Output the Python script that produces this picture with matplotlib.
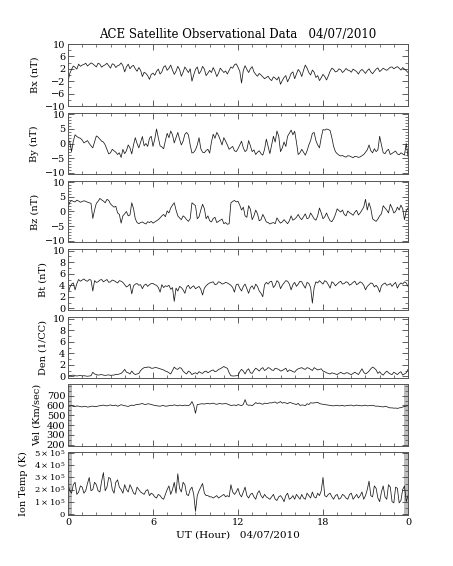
import numpy as np
import matplotlib
matplotlib.use("Agg")
import matplotlib.pyplot as plt
from matplotlib.ticker import MultipleLocator, FixedLocator

plt.rcParams['font.family'] = ['DejaVu Serif']
plt.rcParams['mathtext.fontset'] = 'dejavuserif'

# ---- data: readings every 15 min (0..24 UT) plus readings in between (7.5 min offset) ----
hours = np.arange(97) * 0.25
hours_mid = np.arange(96) * 0.25 + 0.125

bx = [-2.2, 1.8, 2.5, 3.5, 3.2, 3.8, 3.4, 3.6, 2.6, 3.5, 3.0, 3.8, 2.2, 3.4, 3.0, 3.9,
      1.0, 3.5, 2.8, 2.0, 2.4, -0.5, 0.5, -1.4, 0.6, 1.2, 0.3, 2.6, 1.5, 3.2, 0.2, 2.8,
      -0.4, 2.6, 0.8, -2.0, 1.8, 0.4, 2.8, -0.2, 1.5, 2.4, -0.5, 2.2, 0.8, 0.3, 2.6, 3.3,
      2.5, -2.6, 3.0, 0.8, 2.7, 0.2, 0.5, -0.6, -0.8, -1.3, -0.6, -1.6, -3.0, -0.8, -2.2, 0.5,
      -1.2, 1.8, -0.5, 3.2, 0.8, 1.6, -0.8, -1.8, 0.2, -1.6, 1.2, 1.8, 1.2, 1.7, 1.3, 1.6,
      0.9, 1.5, 0.3, 1.8, 0.5, 2.0, 0.4, 1.9, 1.1, 2.2, 1.5, 2.5, 2.0, 2.7, 1.6, 1.9, 0.8]
bx_mid = [0.5, 2.9, 1.9, 2.8, 3.4, 2.9, 3.9, 3.1, 3.8, 2.5, 3.3, 3.0, 3.6, 2.4, 3.2, 3.0,
          2.6, 2.0, 3.1, 1.2, 1.5, 0.9, -0.2, 0.2, -0.1, 1.9, 1.0, 3.0, 2.2, 1.6, 1.2, 1.8,
          0.9, 1.7, 2.0, 0.0, 2.6, 1.2, 1.9, 0.6, 0.8, 1.2, 0.6, 1.5, 1.3, 1.5, 2.2, 3.6,
          1.2, 1.5, 1.8, 2.0, 1.0, -0.4, 0.0, -1.2, -0.4, -1.8, -1.0, -0.6, -1.8, -0.2, -1.0, 1.0,
          0.3, 1.0, 1.5, 2.2, 0.0, 0.9, -0.2, -0.9, -0.5, -0.3, 2.2, 1.0, 2.0, 0.8, 2.1, 1.4,
          1.9, 1.1, 1.3, 1.2, 1.4, 1.0, 1.2, 2.3, 1.6, 1.8, 2.0, 2.6, 2.4, 2.2, 2.4, 1.4]

by = [1.5, -2.8, 3.0, 2.0, 1.2, 0.6, 0.0, -1.5, 2.6, 1.5, 0.5, -2.0, -3.2, -2.5, -3.8, -4.8,
      -3.5, -0.5, -3.6, 2.0, -1.5, 2.4, 0.0, 1.8, -1.0, 5.0, -0.8, -1.8, 3.5, 4.3, 0.2, 3.8,
      -0.5, 3.2, 3.0, -3.3, -2.2, 2.0, -3.0, -2.4, -3.3, 3.2, 3.8, 1.2, 2.0, -0.5, -1.5, -2.5,
      -1.8, 0.8, -2.8, 1.0, -2.8, -3.8, -2.5, -4.0, 1.5, -3.5, 2.5, 4.3, -2.8, 0.5, 2.5, 4.6,
      4.2, -3.8, -2.0, -4.0, -0.5, 3.5, 1.0, -1.5, 4.8, 5.0, 4.5, -1.0, -3.5, -4.3, -4.5, -4.2,
      -4.6, -4.4, -4.8, -4.2, -3.0, -0.5, -3.2, -2.8, 2.5, -3.2, -2.5, -3.8, -3.0, -3.6, -3.2, -4.0, -4.4]
by_mid = [0.5, 0.8, 2.4, 1.8, 0.2, 1.0, -0.8, 0.5, 2.2, 0.8, -0.5, -3.6, -2.0, -3.0, -3.2, -2.0,
          -2.5, -1.5, -0.5, 0.0, 0.5, -0.8, -1.0, 2.5, 1.5, 2.0, -1.2, 1.0, 2.0, 3.0, 2.0, 1.5,
          0.8, 3.8, -0.5, -3.0, -0.5, -1.8, -3.2, -2.0, 0.5, 1.8, 2.8, -0.5, 0.8, -2.0, -1.0, -2.8,
          -0.5, -1.5, -2.2, -0.8, -2.2, -3.0, -3.5, -2.0, -1.0, -0.5, 0.5, 2.5, -1.5, -1.0, 3.5, 3.0,
          0.5, -3.2, -3.0, -2.5, 1.0, 3.8, -0.5, 2.0, 4.6, 4.8, 2.0, -2.8, -4.0, -4.1, -4.7, -4.3,
          -4.9, -4.5, -4.6, -3.8, -2.2, -2.5, -1.8, -2.2, -0.5, -3.5, -2.0, -3.4, -2.6, -3.9, -3.6, 0.0]

bz = [1.5, 3.8, 3.3, 3.6, 3.4, 3.5, 3.0, -2.4, 2.8, 4.5, 3.6, 4.2, 2.6, 1.5, -0.5, -4.0,
      -0.8, -1.5, 3.0, -2.5, -4.2, -3.6, -4.3, -3.8, -4.0, -3.2, -2.2, -1.0, 0.2, 1.2, 3.0, -1.5,
      -2.8, -2.0, -3.4, 3.0, 2.0, -1.8, 2.5, -2.5, -3.2, -2.4, -3.8, -3.0, -4.2, -4.4, 3.0, 3.8,
      3.5, 0.5, -1.5, 2.0, -2.8, 0.5, -3.2, -1.0, -3.6, -4.3, -3.8, -2.2, -4.0, -2.8, -4.2, -1.5,
      -2.6, -1.0, -2.8, -0.8, -2.2, -1.5, -3.0, 1.2, -2.5, -0.5, -3.2, -2.5, 0.9, -0.2, -1.0, 0.2,
      -0.8, -0.2, -1.2, 0.5, 4.2, 3.0, -2.5, -3.4, -1.5, 2.0, 0.5, 2.5, -0.5, 1.5, 2.2, -2.8, 1.2]
bz_mid = [3.2, 3.5, 3.9, 3.2, 3.7, 3.2, 2.8, 0.5, 3.5, 4.0, 3.0, 3.8, 2.0, 1.8, -1.0, -1.5,
          0.0, -1.2, 1.0, -3.8, -3.8, -4.0, -3.5, -3.4, -3.6, -2.8, -1.5, -1.8, -0.5, 2.2, 0.5, -2.2,
          -1.5, -2.8, -2.5, 2.5, -2.5, 0.5, 1.0, -1.5, -3.6, -2.0, -3.4, -2.6, -3.8, -4.2, 3.5, 3.3,
          2.2, 1.5, -2.0, 0.8, -1.5, -0.8, -2.8, -2.2, -3.8, -4.0, -4.2, -3.2, -3.6, -3.5, -3.2, -3.0,
          -2.0, -2.2, -1.8, -2.5, -0.5, -2.5, -1.5, -0.5, -1.8, -2.0, -3.5, -1.0, 0.3, 0.5, -1.5, -0.4,
          -1.3, 0.4, -0.5, 1.5, 0.5, 1.0, -3.0, -2.6, -0.8, 1.2, -0.5, 1.2, 0.0, 0.5, 1.0, 0.2]

bt = [2.4, 4.2, 3.2, 5.0, 4.9, 4.8, 5.0, 3.0, 4.5, 4.9, 4.6, 5.0, 4.6, 4.8, 4.4, 4.7,
      4.1, 3.9, 2.5, 4.2, 4.0, 3.4, 4.2, 4.1, 4.3, 4.0, 2.8, 3.6, 3.8, 3.3, 1.2, 3.0,
      3.6, 2.6, 4.0, 3.7, 3.4, 3.8, 2.3, 3.9, 4.4, 4.6, 4.2, 4.5, 4.3, 4.4, 4.0, 2.8,
      4.2, 3.0, 4.2, 2.6, 3.9, 4.2, 3.0, 2.0, 4.5, 4.6, 3.6, 4.8, 3.4, 4.4, 4.7, 3.2,
      4.5, 4.2, 4.6, 3.5, 4.3, 0.9, 4.6, 4.8, 4.2, 4.6, 3.5, 4.4, 4.2, 4.7, 4.3, 4.5,
      4.2, 4.7, 4.3, 4.4, 3.2, 4.1, 4.3, 4.0, 2.8, 4.2, 4.0, 4.3, 4.2, 3.5, 4.4, 4.6, 3.8]
bt_mid = [3.6, 4.4, 4.3, 4.7, 5.1, 4.7, 4.9, 4.8, 4.6, 5.0, 4.8, 4.5, 4.9, 4.6, 4.8, 4.5,
          3.7, 4.2, 3.9, 4.3, 4.1, 4.0, 3.8, 4.3, 4.1, 3.6, 4.1, 3.9, 4.0, 3.6, 3.5, 3.8,
          3.2, 3.7, 3.4, 3.9, 3.6, 3.3, 3.5, 4.2, 4.5, 4.1, 4.6, 4.2, 4.5, 4.2, 3.6, 4.1,
          3.5, 3.8, 3.4, 3.6, 3.3, 3.8, 2.6, 4.1, 4.2, 4.7, 4.0, 4.5, 4.0, 4.8, 4.2, 4.1,
          3.8, 4.7, 4.0, 4.5, 3.6, 3.6, 4.4, 4.5, 4.8, 4.1, 4.6, 3.9, 4.5, 4.2, 4.6, 4.0,
          4.5, 4.1, 4.6, 4.0, 3.8, 4.4, 3.7, 3.6, 3.9, 4.4, 4.1, 3.8, 4.5, 4.1, 4.2, 4.4]

den = [0.2, 0.15, 0.1, 0.1, 0.05, 0.05, 0.05, 0.7, 0.3, 0.25, 0.2, 0.2, 0.15, 0.2, 0.3, 0.5,
       1.2, 0.6, 0.9, 0.3, 0.5, 1.3, 1.5, 1.6, 1.4, 1.5, 1.3, 1.1, 0.8, 0.4, 1.6, 1.2,
       1.4, 0.6, 0.9, 0.3, 0.6, 0.8, 0.5, 0.9, 0.8, 1.1, 0.9, 1.3, 1.7, 1.4, 0.1, 0.05,
       0.1, 1.2, 0.4, 1.3, 0.5, 1.4, 0.9, 1.5, 1.2, 1.4, 1.0, 1.3, 0.9, 1.2, 0.8, 1.0,
       0.7, 1.3, 1.5, 1.2, 1.4, 1.0, 1.3, 1.2, 0.9, 0.6, 0.4, 0.5, 0.3, 0.7, 0.4, 0.6,
       0.3, 0.7, 0.3, 1.3, 0.4, 0.9, 1.6, 1.1, 0.8, 0.2, 0.9, 0.4, 0.7, 0.3, 0.8, 0.4, 1.2]
den_mid = [0.1, 0.2, 0.05, 0.15, 0.1, 0.0, 0.1, 0.4, 0.2, 0.3, 0.15, 0.25, 0.2, 0.35, 0.4, 0.8,
           0.7, 0.4, 0.5, 0.4, 1.0, 1.5, 1.6, 1.4, 1.5, 1.4, 1.2, 0.9, 0.6, 1.0, 1.3, 1.5,
           0.9, 0.4, 0.7, 0.5, 0.4, 0.6, 0.8, 0.6, 1.0, 0.8, 1.2, 1.5, 1.5, 0.6, 0.05, 0.1,
           0.8, 0.9, 1.0, 0.6, 1.0, 1.2, 1.3, 1.0, 1.5, 1.1, 1.4, 1.2, 1.0, 1.4, 1.1, 0.8,
           1.1, 1.4, 1.3, 1.5, 1.2, 1.5, 1.1, 1.3, 0.8, 0.5, 0.6, 0.4, 0.5, 0.5, 0.6, 0.4,
           0.5, 0.5, 0.8, 0.7, 0.6, 1.3, 1.4, 0.5, 0.4, 0.6, 0.6, 0.3, 0.5, 0.6, 0.2, 0.6]

vel = [595, 600, 588, 592, 585, 590, 586, 594, 590, 598, 604, 596, 606, 600, 592, 608,
       598, 590, 604, 606, 612, 620, 610, 615, 604, 598, 592, 600, 594, 602, 606, 596,
       600, 604, 598, 640, 520, 612, 618, 620, 616, 624, 612, 620, 618, 615, 600, 605,
       610, 598, 660, 602, 598, 630, 625, 612, 620, 628, 632, 622, 640, 630, 618, 628,
       615, 622, 605, 598, 610, 625, 630, 620, 612, 605, 600, 596, 602, 598, 594, 600,
       604, 598, 600, 596, 603, 598, 602, 592, 590, 585, 588, 575, 572, 570, 578, 590, 598]
vel_mid = [592, 590, 596, 588, 592, 584, 591, 588, 594, 600, 598, 602, 598, 604, 600, 602,
           594, 598, 600, 610, 616, 612, 618, 610, 600, 595, 598, 592, 598, 600, 602, 604,
           598, 600, 610, 600, 610, 616, 614, 622, 620, 616, 618, 615, 620, 608, 602, 598,
           604, 612, 610, 604, 612, 620, 618, 624, 622, 626, 636, 630, 624, 626, 630, 620,
           610, 600, 604, 618, 628, 626, 632, 615, 608, 602, 598, 600, 596, 602, 598, 602,
           596, 604, 598, 600, 596, 600, 596, 594, 588, 592, 580, 576, 574, 575, 584, 594]

temp_1e5 = [2.5, 1.7, 2.6, 1.8, 2.2, 1.9, 3.0, 2.0, 2.4, 1.8, 3.4, 2.2, 2.9, 1.7, 2.8, 2.0,
            2.4, 1.8, 2.1, 1.6, 2.0, 1.7, 1.9, 1.5, 1.6, 1.3, 1.5, 1.2, 2.0, 1.6, 2.6, 3.3,
            1.8, 2.4, 1.5, 2.2, 0.2, 1.9, 2.5, 1.5, 1.4, 1.3, 1.5, 1.4, 1.6, 1.5, 2.4, 1.6,
            2.1, 1.4, 2.2, 1.3, 1.7, 1.2, 1.9, 1.3, 1.4, 1.2, 1.6, 1.1, 1.5, 1.0, 1.7, 1.3,
            1.2, 1.4, 1.6, 1.2, 1.5, 1.8, 1.3, 1.5, 3.0, 1.4, 1.7, 1.2, 1.6, 1.3, 1.5, 1.2,
            1.7, 1.4, 1.3, 1.8, 1.5, 2.7, 1.4, 2.1, 1.0, 2.3, 1.2, 2.2, 0.9, 2.1, 1.1, 2.3, 1.5]
temp_mid_1e5 = [1.9, 2.4, 1.6, 2.3, 1.7, 2.5, 1.9, 2.6, 1.9, 2.7, 1.9, 3.0, 2.0, 2.6, 2.2, 1.7,
                2.0, 2.4, 1.7, 2.2, 1.8, 1.6, 2.0, 1.7, 1.4, 1.6, 1.3, 1.6, 2.3, 2.0, 1.7, 2.1,
                2.6, 1.6, 2.0, 1.6, 1.5, 2.2, 1.7, 1.5, 1.4, 1.4, 1.3, 1.5, 1.4, 1.4, 1.8, 1.8,
                1.6, 1.8, 1.5, 1.6, 1.4, 1.7, 1.5, 1.6, 1.3, 1.4, 1.2, 1.4, 1.3, 1.5, 1.2, 1.5,
                1.6, 1.2, 1.3, 1.7, 1.3, 1.4, 1.7, 1.9, 1.5, 1.6, 1.4, 1.5, 1.2, 1.6, 1.3, 1.6,
                1.2, 1.6, 1.5, 1.2, 2.0, 1.5, 2.3, 1.3, 1.8, 1.4, 2.4, 1.0, 2.2, 0.9, 2.0, 1.0]

ylabels = ["Bx (nT)", "By (nT)", "Bz (nT)", "Bt (nT)", "Den (1/CC)", "Vel (Km/sec)", "Ion Temp (K)"]
xtick_vals = [0, 6, 12, 18, 24]
xtick_labels = ["0", "6", "12", "18", "0"]
title = "ACE Satellite Observational Data   04/07/2010"
xlabel = "UT (Hour)   04/07/2010"


def merged(a, b):
    t = np.concatenate([hours, hours_mid])
    v = np.concatenate([np.asarray(a, float), np.asarray(b, float)])
    o = np.argsort(t)
    return t[o], v[o]


# ---- layout ----
W, H = 453, 566
fig = plt.figure(figsize=(W / 100, H / 100), dpi=100)
panels_px = [(44, 106), (113, 174), (181, 242), (249, 310), (317, 378), (384, 446), (452, 515)]
x0, x1 = 68, 408

pairs = [(bx, bx_mid), (by, by_mid), (bz, bz_mid), (bt, bt_mid), (den, den_mid), (vel, vel_mid),
         ([v * 1e5 for v in temp_1e5], [v * 1e5 for v in temp_mid_1e5])]
ylims = [(-10, 10), (-10.5, 10.5), (-10.5, 10.5), (-0.3, 10.3), (-0.3, 10.3), (185, 820), (-0.1e5, 5.1e5)]
majors = [[-10, -6, -2, 2, 6, 10], [-10, -5, 0, 5, 10], [-10, -5, 0, 5, 10],
          [0, 2, 4, 6, 8, 10], [0, 2, 4, 6, 8, 10], [200, 300, 400, 500, 600, 700],
          [0, 1e5, 2e5, 3e5, 4e5, 5e5]]
minors = [2, 1, 1, 1, 1, 50, 0.5e5]
temp_labels = ["0", r"$1\times10^5$", r"$2\times10^5$", r"$3\times10^5$", r"$4\times10^5$", r"$5\times10^5$"]

fs = 7
for i, (top, bot) in enumerate(panels_px):
    ax = fig.add_axes([x0 / W, 1 - bot / H, (x1 - x0) / W, (bot - top) / H])
    if i >= 5:
        ax.axvspan(0, 0.25, color="#bdbdbd", lw=0)
        ax.axvspan(23.72, 24, color="#bdbdbd", lw=0)
    t, v = merged(*pairs[i])
    ax.plot(t, v, color="#1a1a1a", lw=0.55)
    ax.set_xlim(0, 24)
    ax.set_ylim(*ylims[i])
    ax.xaxis.set_major_locator(FixedLocator(xtick_vals))
    ax.xaxis.set_minor_locator(MultipleLocator(1))
    ax.yaxis.set_major_locator(FixedLocator(majors[i]))
    ax.yaxis.set_minor_locator(MultipleLocator(minors[i]))
    ax.tick_params(which="both", direction="in", top=True, right=True, color="#444444",
                   labelsize=fs, pad=2)
    ax.tick_params(which="major", length=4, width=0.6)
    ax.tick_params(which="minor", length=2, width=0.5)
    for s in ax.spines.values():
        s.set_color("#555555")
        s.set_linewidth(0.7)
    if i == 6:
        ax.set_yticklabels(temp_labels, fontsize=6)
        ax.set_xticklabels(xtick_labels)
        ax.set_xlabel(xlabel, fontsize=fs + 0.5, labelpad=3)
    else:
        ax.set_xticklabels([])
    ax.set_ylabel(ylabels[i], fontsize=fs, labelpad=4)
    if i == 0:
        ax.set_title(title, fontsize=8.5, pad=4)

fig.savefig("out.png", dpi=100)
